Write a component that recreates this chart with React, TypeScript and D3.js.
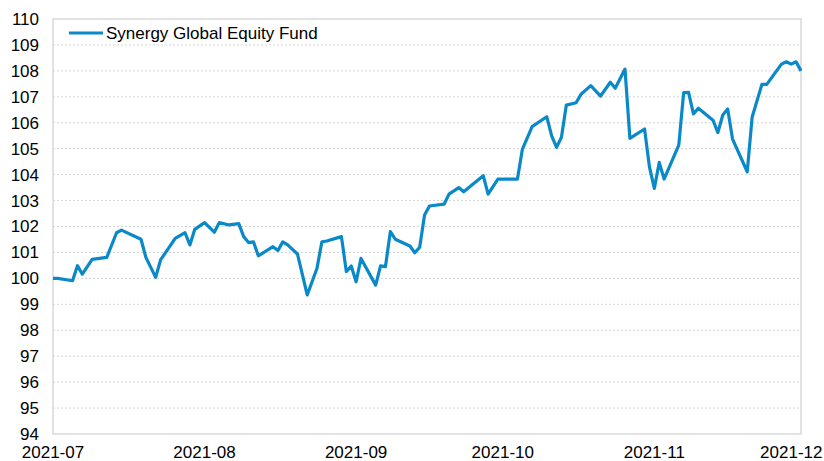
import React from "react";
import * as d3 from "d3";

const dates: string[] = [
  "2021-07-01","2021-07-02","2021-07-05","2021-07-06","2021-07-07","2021-07-09","2021-07-12","2021-07-14","2021-07-15","2021-07-19",
  "2021-07-20","2021-07-22","2021-07-23","2021-07-26","2021-07-28","2021-07-29","2021-07-30","2021-08-01","2021-08-03","2021-08-04",
  "2021-08-06","2021-08-08","2021-08-09","2021-08-10","2021-08-11","2021-08-12","2021-08-15","2021-08-16","2021-08-17","2021-08-18",
  "2021-08-20","2021-08-22","2021-08-24","2021-08-25","2021-08-26","2021-08-29","2021-08-30","2021-08-31","2021-09-01","2021-09-02",
  "2021-09-05","2021-09-06","2021-09-07","2021-09-08","2021-09-09","2021-09-12","2021-09-13","2021-09-14","2021-09-15","2021-09-16",
  "2021-09-19","2021-09-20","2021-09-22","2021-09-23","2021-09-27","2021-09-28","2021-09-30","2021-10-04","2021-10-05","2021-10-07",
  "2021-10-10","2021-10-11","2021-10-12","2021-10-13","2021-10-14","2021-10-16","2021-10-17","2021-10-19","2021-10-21","2021-10-23",
  "2021-10-24","2021-10-26","2021-10-27","2021-10-30","2021-10-31","2021-11-01","2021-11-02","2021-11-03","2021-11-06","2021-11-07",
  "2021-11-08","2021-11-09","2021-11-10","2021-11-13","2021-11-14","2021-11-15","2021-11-16","2021-11-17","2021-11-20","2021-11-21",
  "2021-11-23","2021-11-24","2021-11-27","2021-11-28","2021-11-29","2021-11-30","2021-12-01",
];

const values: number[] = [
  100.0,100.0,99.91,100.49,100.16,100.73,100.81,101.76,101.86,101.51,
  100.81,100.04,100.71,101.54,101.76,101.29,101.89,102.15,101.78,102.15,
  102.06,102.11,101.61,101.38,101.41,100.87,101.22,101.07,101.41,101.29,
  100.94,99.36,100.39,101.41,101.44,101.61,100.26,100.48,99.87,100.77,
  99.74,100.48,100.45,101.8,101.51,101.25,100.99,101.2,102.44,102.79,
  102.86,103.25,103.5,103.34,103.96,103.25,103.83,103.83,104.97,105.85,
  106.23,105.49,105.05,105.44,106.68,106.77,107.1,107.43,107.03,107.56,
  107.33,108.07,105.4,105.76,104.3,103.47,104.47,103.83,105.14,107.16,
  107.17,106.34,106.56,106.1,105.62,106.3,106.53,105.37,104.11,106.21,
  107.48,107.48,108.26,108.35,108.26,108.35,108.0,
];

const seriesName = "Synergy Global Equity Fund";
const xTickLabels: string[] = ["2021-07", "2021-08", "2021-09", "2021-10", "2021-11", "2021-12"];
const yTicks: number[] = d3.range(94, 111, 1);

const W = 824, H = 461;
const M = { left: 53, right: 23, top: 19, bottom: 27 };
const FONT = "'Liberation Sans', Arial, sans-serif";
const FS = 17;
const LINE_COLOR = "#0a89c9";

export default function App() {
  const parse = d3.timeParse("%Y-%m-%d");
  const parseM = d3.timeParse("%Y-%m");
  const data = dates.map((d, i) => ({ date: parse(d) as Date, value: values[i] }));
  const x = d3.scaleTime()
    .domain([parseM(xTickLabels[0]) as Date, parseM(xTickLabels[xTickLabels.length - 1]) as Date])
    .range([M.left, W - M.right]);
  const y = d3.scaleLinear().domain([94, 110]).range([H - M.bottom, M.top]);
  const line = d3.line<{ date: Date; value: number }>()
    .x((d) => x(d.date))
    .y((d) => y(d.value));
  const x0 = M.left, x1 = W - M.right, y0 = M.top, y1 = H - M.bottom;
  const labelW = FS * 3.669; // 6 digits + hyphen in Arial metrics

  return (
    <svg width={W} height={H} style={{ position: "absolute", left: 0, top: 0, background: "#fff" }}>
      {yTicks.filter((t) => t > 94 && t < 110).map((t) => (
        <line key={t} x1={x0} x2={x1} y1={y(t)} y2={y(t)} stroke="#d4d4d4" strokeWidth={1} strokeDasharray="2,2" />
      ))}
      <rect x={x0} y={y0} width={x1 - x0} height={y1 - y0} fill="none" stroke="#d9d9d9" strokeWidth={1.5} />
      {yTicks.map((t) => (
        <text key={t} x={39} y={y(t)} dy="0.35em" textAnchor="end" fontFamily={FONT} fontSize={FS} fill="#000">
          {t}
        </text>
      ))}
      {xTickLabels.map((l) => {
        const cx = Math.min(x(parseM(l) as Date), W - 1.5 - labelW / 2);
        return (
          <text key={l} x={cx} y={458} textAnchor="middle" fontFamily={FONT} fontSize={FS} fill="#000">
            {l}
          </text>
        );
      })}
      <path d={line(data) || ""} fill="none" stroke={LINE_COLOR} strokeWidth={3.2} strokeLinejoin="round" />
      <line x1={69} x2={103} y1={33} y2={33} stroke={LINE_COLOR} strokeWidth={3.2} />
      <text x={106} y={33} dy="0.35em" fontFamily={FONT} fontSize={FS} fill="#000">{seriesName}</text>
    </svg>
  );
}
